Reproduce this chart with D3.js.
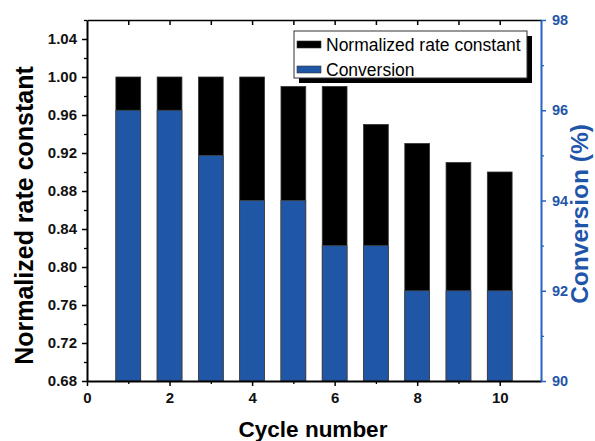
<!DOCTYPE html>
<html><head><meta charset="utf-8">
<script src="https://cdn.jsdelivr.net/npm/d3@7"></script>
<style>
html,body{margin:0;padding:0;background:#fff;}
svg{display:block;font-family:Arial,"Liberation Sans",sans-serif;}
</style></head>
<body><svg id="c" width="595" height="441"></svg>
<script>
const cycles = [1,2,3,4,5,6,7,8,9,10];
const rateConstant = [1.00,1.00,1.00,1.00,0.99,0.99,0.95,0.93,0.91,0.90];
const conversion = [96,96,95,94,94,93,93,92,92,92];
const leftTicks = [0.68,0.72,0.76,0.80,0.84,0.88,0.92,0.96,1.00,1.04];
const leftMinor = [0.70,0.74,0.78,0.82,0.86,0.90,0.94,0.98,1.02,1.06];
const rightTicks = [90,92,94,96,98];
const rightMinor = [91,93,95,97];
const xTicks = [0,2,4,6,8,10];
const xMinor = [1,3,5,7,9];
const seriesNames = ["Normalized rate constant","Conversion"];

const BLACK = "#000", BLUE_BAR = "#1f56a6", BLUE_AX = "#2563c4", BLUE_TXT = "#1f56aa";
const svg = d3.select("#c");
const L = 87, R = 541, T = 20, B = 381;
const x = d3.scaleLinear().domain([0,11]).range([L,R]);
const yL = d3.scaleLinear().domain([0.68,1.06]).range([B,T]);
const yR = d3.scaleLinear().domain([90,98]).range([B,T]);
const bw = x(0.6) - x(0);

// bars: black rate constant
svg.append("g").selectAll("rect").data(cycles).join("rect")
  .attr("x", (d)=>x(d)-bw/2).attr("width", bw)
  .attr("y", (d,i)=>yL(rateConstant[i])).attr("height", (d,i)=>B - yL(rateConstant[i]))
  .attr("fill", BLACK).attr("stroke","#333").attr("stroke-width",0.8);
// bars: blue conversion
svg.append("g").selectAll("rect").data(cycles).join("rect")
  .attr("x", (d)=>x(d)-bw/2).attr("width", bw)
  .attr("y", (d,i)=>yR(conversion[i])).attr("height", (d,i)=>B - yR(conversion[i]))
  .attr("fill", BLUE_BAR).attr("stroke","#444").attr("stroke-width",0.8);

function style(g, color, w){
  g.select(".domain").attr("stroke", color).attr("stroke-width", w);
  g.selectAll(".tick line").attr("stroke", color).attr("stroke-width", 1.5);
}
// left axis
const gl = svg.append("g").attr("transform",`translate(${L},0)`)
  .call(d3.axisLeft(yL).tickValues(leftTicks).tickFormat(d3.format(".2f")).tickSize(5).tickPadding(5).tickSizeOuter(0));
style(gl, BLACK, 2);
gl.selectAll("text").attr("font-size",15).attr("font-weight","bold").attr("fill","#111");
const glm = svg.append("g").attr("transform",`translate(${L},0)`)
  .call(d3.axisLeft(yL).tickValues(leftMinor).tickFormat("").tickSize(3).tickSizeOuter(0));
glm.select(".domain").remove(); glm.selectAll(".tick line").attr("stroke",BLACK).attr("stroke-width",1.3);

// bottom axis
const gb = svg.append("g").attr("transform",`translate(0,${B})`)
  .call(d3.axisBottom(x).tickValues(xTicks).tickFormat(d3.format("d")).tickSize(5).tickPadding(6).tickSizeOuter(0));
style(gb, BLACK, 2);
gb.selectAll("text").attr("font-size",15).attr("font-weight","bold").attr("fill","#111");
const gbm = svg.append("g").attr("transform",`translate(0,${B})`)
  .call(d3.axisBottom(x).tickValues(xMinor).tickFormat("").tickSize(3).tickSizeOuter(0));
gbm.select(".domain").remove(); gbm.selectAll(".tick line").attr("stroke",BLACK).attr("stroke-width",1.3);

// top axis
const gt = svg.append("g").attr("transform",`translate(0,${T})`)
  .call(d3.axisBottom(x).tickValues(cycles).tickFormat("").tickSize(5).tickSizeOuter(0));
style(gt, BLACK, 1.5);

// right axis
const gr = svg.append("g").attr("transform",`translate(${R},0)`)
  .call(d3.axisRight(yR).tickValues(rightTicks).tickFormat(d3.format("d")).tickSize(5).tickPadding(6).tickSizeOuter(0));
style(gr, BLUE_AX, 2);
gr.selectAll("text").attr("font-size",14.5).attr("font-weight","bold").attr("fill",BLUE_TXT);
const grm = svg.append("g").attr("transform",`translate(${R},0)`)
  .call(d3.axisRight(yR).tickValues(rightMinor).tickFormat("").tickSize(3).tickSizeOuter(0));
grm.select(".domain").remove(); grm.selectAll(".tick line").attr("stroke",BLUE_AX).attr("stroke-width",1.3);

// axis titles
svg.append("text").attr("transform",`translate(33,${(T+B)/2+15}) rotate(-90)`)
  .attr("text-anchor","middle").attr("font-size",25).attr("font-weight","bold").attr("fill","#000")
  .text("Normalized rate constant");
svg.append("text").attr("transform",`translate(588,214) rotate(-90)`)
  .attr("text-anchor","middle").attr("font-size",24.5).attr("font-weight","bold").attr("fill",BLUE_TXT)
  .text("Conversion (%)");
svg.append("text").attr("x",313).attr("y",437)
  .attr("text-anchor","middle").attr("font-size",22.5).attr("font-weight","bold").attr("fill","#000")
  .text("Cycle number");

// legend
const lg = svg.append("g");
lg.append("rect").attr("x",299).attr("y",36).attr("width",233).attr("height",47).attr("fill","#000");
lg.append("rect").attr("x",294).attr("y",31).attr("width",233).attr("height",47).attr("fill","#fff").attr("stroke","#333").attr("stroke-width",1);
const colors = [BLACK, BLUE_BAR];
seriesNames.forEach((n,i)=>{
  lg.append("rect").attr("x",297).attr("y",41+i*25).attr("width",24).attr("height",7)
    .attr("fill",colors[i]).attr("stroke","#333").attr("stroke-width",0.6);
  lg.append("text").attr("x",326).attr("y",51+i*25).attr("font-size",17.5).attr("fill","#000").text(n);
});
</script></body></html>
